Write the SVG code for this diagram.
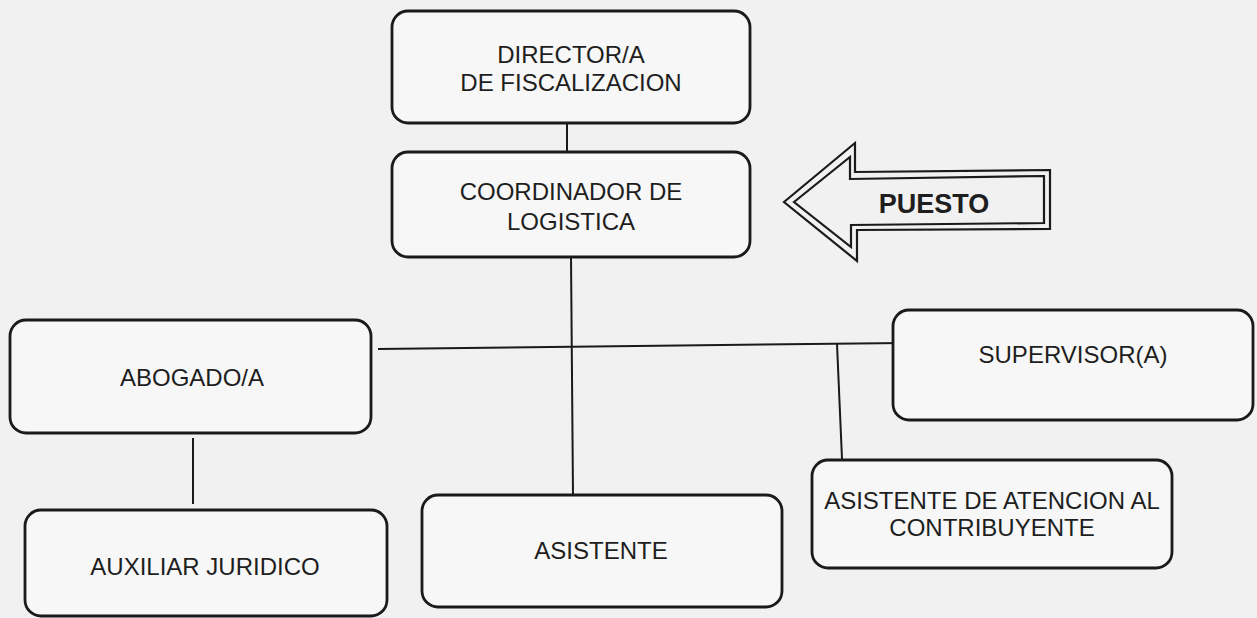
<svg xmlns="http://www.w3.org/2000/svg" width="1257" height="618" viewBox="0 0 1257 618">
<style>
.box{fill:#f7f7f7;stroke:#1a1a1a;stroke-width:2.8}
.t{font-family:"Liberation Sans",Arial,sans-serif;font-size:24px;fill:#1e1e1e;text-anchor:middle}
.ln{stroke:#1a1a1a;stroke-width:2;fill:none}
.ar{fill:none;stroke:#1a1a1a;stroke-width:2.2;stroke-linejoin:miter}
</style>
<rect width="1257" height="618" fill="#f1f1f1"/>
<g id="connectors">
<line class="ln" x1="567" y1="123" x2="567" y2="152"/>
<line class="ln" x1="571" y1="257" x2="573" y2="495"/>
<line class="ln" x1="378" y1="349" x2="904" y2="343"/>
<line class="ln" x1="837" y1="344" x2="842" y2="459"/>
<line class="ln" x1="193" y1="438" x2="193" y2="504"/>
</g>
<g id="director">
<rect class="box" x="392" y="11" width="358" height="112" rx="16"/>
<text class="t" x="571" y="63">DIRECTOR/A</text>
<text class="t" x="571" y="91">DE FISCALIZACION</text>
</g>
<g id="coordinador">
<rect class="box" x="392" y="152" width="358" height="105" rx="16"/>
<text class="t" x="571" y="200">COORDINADOR DE</text>
<text class="t" x="571" y="230">LOGISTICA</text>
</g>
<g id="puesto">
<polygon class="ar" points="784,202 855,143 855,172 1050,170 1050,229 857,230 857,261"/>
<polygon class="ar" points="794,202 850,157 850,179 1044,176 1044,223 851,225 851,247"/>
<text x="934" y="213" font-family="'Liberation Sans',Arial,sans-serif" font-size="27" font-weight="bold" fill="#1e1e1e" text-anchor="middle">PUESTO</text>
</g>
<g id="abogado">
<rect class="box" x="10" y="320" width="361" height="113" rx="16"/>
<text class="t" x="192" y="386">ABOGADO/A</text>
</g>
<g id="supervisor">
<rect class="box" x="893" y="310" width="360" height="110" rx="16"/>
<text class="t" x="1073" y="363">SUPERVISOR(A)</text>
</g>
<g id="asistente-atencion">
<rect class="box" x="812" y="460" width="360" height="108" rx="16"/>
<text class="t" x="992" y="509">ASISTENTE DE ATENCION AL</text>
<text class="t" x="992" y="536">CONTRIBUYENTE</text>
</g>
<g id="auxiliar">
<rect class="box" x="25" y="510" width="362" height="106" rx="16"/>
<text class="t" x="205" y="575">AUXILIAR JURIDICO</text>
</g>
<g id="asistente">
<rect class="box" x="422" y="495" width="360" height="112" rx="16"/>
<text class="t" x="601" y="559">ASISTENTE</text>
</g>
</svg>
